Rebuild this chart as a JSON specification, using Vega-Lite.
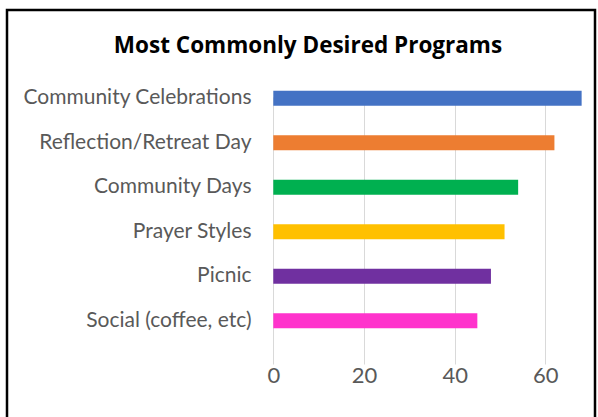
{
  "$schema": "https://vega.github.io/schema/vega-lite/v6.json",
  "autosize": {"type": "none"},
  "padding": {"left": 7, "top": 10, "right": 3, "bottom": 0},
  "width": 588,
  "height": 420,
  "background": "white",
  "title": {
    "text": "Most Commonly Desired Programs",
    "font": "Open Sans",
    "fontSize": 22.5,
    "fontWeight": "bold",
    "color": "#000000",
    "anchor": "middle",
    "frame": "group",
    "orient": "top",
    "baseline": "alphabetic",
    "offset": -65,
    "dx": 7
  },
  "data": {
    "values": [
      {"program": "Community Celebrations", "count": 68},
      {"program": "Reflection/Retreat Day", "count": 62},
      {"program": "Community Days", "count": 54},
      {"program": "Prayer Styles", "count": 51},
      {"program": "Picnic", "count": 48},
      {"program": "Social (coffee, etc)", "count": 45}
    ]
  },
  "mark": {"type": "bar"},
  "encoding": {
    "y": {
      "field": "program",
      "type": "nominal",
      "sort": null,
      "scale": {"range": [66, 333], "paddingInner": 0.663, "paddingOuter": 0.331},
      "axis": {
        "title": null,
        "ticks": false,
        "domain": false,
        "grid": false,
        "offset": -254,
        "labelPadding": 10,
        "labelFont": "Lato",
        "labelFontSize": 21,
        "labelColor": "#595959",
        "labelLimit": 400
      }
    },
    "x": {
      "field": "count",
      "type": "quantitative",
      "scale": {"domain": [0, 70], "nice": false, "range": [266.3, 583.7]},
      "axis": {
        "title": null,
        "values": [0, 20, 40, 60],
        "ticks": false,
        "domain": false,
        "grid": true,
        "gridColor": "#D9D9D9",
        "gridWidth": 1,
        "offset": -65,
        "labelPadding": 0,
        "labelFlush": false,
        "labelFont": "Lato",
        "labelFontSize": 22,
        "labelColor": "#595959"
      }
    },
    "color": {
      "field": "program",
      "type": "nominal",
      "scale": {
        "domain": ["Community Celebrations", "Reflection/Retreat Day", "Community Days", "Prayer Styles", "Picnic", "Social (coffee, etc)"],
        "range": ["#4472C4", "#ED7D31", "#00B050", "#FFC000", "#7030A0", "#FF33CC"]
      },
      "legend": null
    }
  },
  "config": {
    "view": {"stroke": "#000000", "strokeWidth": 2.5, "fill": "white"}
  }
}
